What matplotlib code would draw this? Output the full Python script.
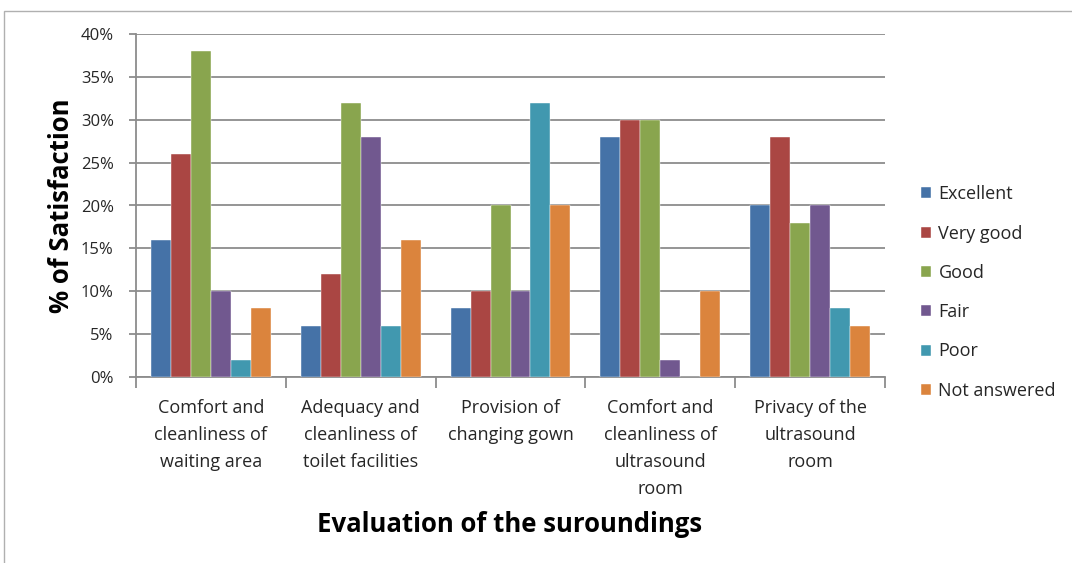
import numpy as np
import matplotlib
matplotlib.use("Agg")
import matplotlib.pyplot as plt
from matplotlib.patches import Rectangle
from matplotlib.ticker import FuncFormatter, MultipleLocator

plt.rcParams['font.family'] = ['Open Sans', 'DejaVu Sans']
plt.rcParams['text.color'] = '#262626'
plt.rcParams['xtick.labelcolor'] = '#262626'
plt.rcParams['ytick.labelcolor'] = '#262626'

categories = [
    "Comfort and\ncleanliness of\nwaiting area",
    "Adequacy and\ncleanliness of\ntoilet facilities",
    "Provision of\nchanging gown",
    "Comfort and\ncleanliness of\nultrasound\nroom",
    "Privacy of the\nultrasound\nroom",
]
series_names = ["Excellent", "Very good", "Good", "Fair", "Poor", "Not answered"]
excellent = [16, 6, 8, 28, 20]
very_good = [26, 12, 10, 30, 28]
good = [38, 32, 20, 30, 18]
fair = [10, 28, 10, 2, 20]
poor = [2, 6, 32, 0, 8]
not_answered = [8, 16, 20, 10, 6]

colors = ["#4572A7", "#AA4643", "#89A54E", "#71588F", "#4198AF", "#DB843D"]
values = [excellent, very_good, good, fair, poor, not_answered]

fig = plt.figure(figsize=(10.72, 5.63), dpi=100)
ax = fig.add_axes([136 / 1072, 1 - 377 / 563, (885 - 136) / 1072, (377 - 34) / 563])

# outer chart frame
fig.patches.append(Rectangle((4 / 1072, -0.1), 1.2, 1 - 11 / 563 + 0.1,
                             transform=fig.transFigure, fill=False,
                             edgecolor="#b0b0b0", linewidth=1))

x = np.arange(len(categories))
bar_w = 1 / 7.5
for i, (name, vals) in enumerate(zip(series_names, values)):
    ax.bar(x + (i - 2.5) * bar_w, vals, width=bar_w, color=colors[i],
           label=name, zorder=3, edgecolor="white", linewidth=0.3)

ax.set_xlim(-0.5, len(categories) - 0.5)
ax.set_ylim(0, 40)
ax.yaxis.set_major_locator(MultipleLocator(5))
ax.yaxis.set_major_formatter(FuncFormatter(lambda v, p: f"{v:.0f}%"))
ax.grid(axis="y", color="#8c8c8c", linewidth=1.3, zorder=0)

ax.set_xticks(np.arange(-0.5, len(categories), 1))
ax.set_xticklabels([])
ax.set_xticks(x, minor=True)
ax.set_xticklabels(categories, minor=True, fontsize=13, linespacing=1.64,
                   va="top")
ax.tick_params(axis="x", which="minor", length=0, pad=16)
ax.tick_params(axis="x", which="major", length=8, color="#8c8c8c", width=1.3)
ax.tick_params(axis="y", length=5, color="#8c8c8c", width=1.3, labelsize=12,
               pad=11)

for side in ["top", "right"]:
    ax.spines[side].set_visible(False)
ax.spines["left"].set_color("#8c8c8c")
ax.spines["bottom"].set_color("#8c8c8c")
ax.spines["left"].set_linewidth(1.3)
ax.spines["bottom"].set_linewidth(1.3)

ax.set_ylabel("% of Satisfaction", fontsize=18.5, fontweight="bold",
              labelpad=4, color="black")
fig.text(510 / 1072, 1 - 525 / 563, "Evaluation of the suroundings",
         fontsize=18.5, fontweight="bold", ha="center", va="center",
         color="black")

ax.legend(loc="upper left", bbox_to_anchor=(905 / 1072, 1 - 169 / 563),
          bbox_transform=fig.transFigure, frameon=False, fontsize=13,
          handlelength=0.55, handleheight=0.55, handletextpad=0.4,
          labelspacing=1.18)

fig.savefig("out.png", dpi=100)
